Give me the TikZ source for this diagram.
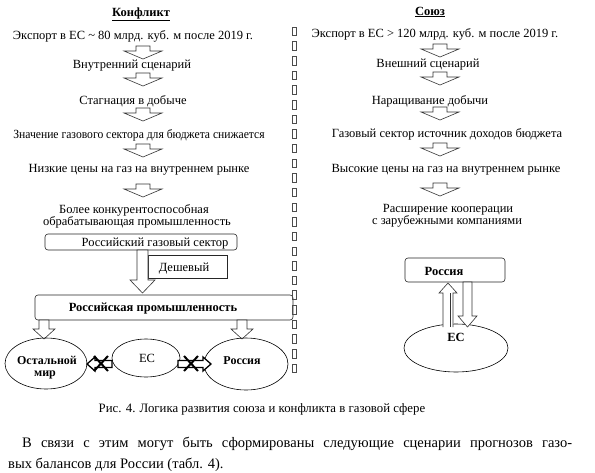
\documentclass[tikz,border=0pt]{standalone}
\usepackage{fontspec}
\setmainfont{Liberation Serif}
\usetikzlibrary{shapes.geometric}
\tikzset{
  txt/.style={anchor=base, inner sep=0pt, font=\fontsize{12.5}{14}\selectfont},
  btxt/.style={txt, font=\fontsize{12.5}{14}\selectfont\bfseries},
  etxt/.style={txt, font=\fontsize{12}{13}\selectfont\bfseries},
  blk/.style={draw=black!80, line width=0.6pt, fill=white},
  bold arrow/.style={draw=black, line width=1.3pt, fill=white},
  cross/.style={draw=black, line width=2pt},
  rbox/.style={draw=black!85, line width=0.6pt, rounded corners=3pt, inner sep=0pt},
  ell/.style={ellipse, draw=black, line width=0.6pt, inner sep=0pt},
  tofu/.style={draw=black!70, line width=0.5pt},
  pics/dnarr/.style={code={\draw[blk] (-7,0) -- (7,0) -- (7,5) -- (19,5) -- (0,13) -- (-19,5) -- (-7,5) -- cycle;}}
}
\begin{document}
\begin{tikzpicture}[x=1pt,y=-1pt]
\useasboundingbox (0,0) rectangle (595,472);
% left column
\node[btxt] (hk) at (141,16) {\underline{Конфликт}};
\node[txt] (l1) at (133,39) {Экспорт в ЕС \textasciitilde\ 80 млрд. куб. м после 2019 г.};
\pic at (143,46) {dnarr};
\node[txt] (l2) at (132,68) {Внутренний сценарий};
\pic at (143,73) {dnarr};
\node[txt] (l3) at (133,104) {Стагнация в добыче};
\pic at (143,108) {dnarr};
\node[txt] (l4) at (139,138) {\scalebox{0.93}[1]{Значение газового сектора для бюджета снижается}};
\pic at (143,144) {dnarr};
\node[txt] (l5) at (139,172) {Низкие цены на газ на внутреннем рынке};
\pic at (143,184) {dnarr};
\node[txt] (l6) at (134,213) {Более конкурентоспособная};
\node[txt] (l7) at (137,225) {обрабатывающая промышленность};
% gas sector
\node[rbox, minimum width=192pt, minimum height=16pt] (gs) at (141,242) {};
\node[txt] (gst) at (155,246.5) {Российский газовый сектор};
\node[draw=black!85, line width=0.6pt, inner sep=0pt, minimum width=79pt, minimum height=23pt] (cheap) at (187.5,266.5) {};
\node[txt] (cheapt) at (184,271) {Дешевый};
\draw[blk] (137,250) -- (148,250) -- (148,280) -- (155,280) -- (142.5,293) -- (130,280) -- (137,280) -- cycle;
\node[rbox, minimum width=258pt, minimum height=25pt] (ind) at (164,307.5) {};
\node[btxt] (indt) at (153,311.5) {Российская промышленность};
\draw[blk] (39,320) -- (49,320) -- (49,329) -- (55,329) -- (44,339) -- (33,329) -- (39,329) -- cycle;
\draw[blk] (237,320) -- (247,320) -- (247,329) -- (253,329) -- (242,339) -- (231,329) -- (237,329) -- cycle;
% ellipses
\node[ell, minimum width=82pt, minimum height=51pt] (rest) at (46,363.5) {};
\node[etxt] (restt1) at (47,364) {Остальной};
\node[etxt] (restt2) at (45,376) {мир};
\node[ell, minimum width=68pt, minimum height=38pt] (ec) at (146,358) {};
\node[txt] (ect) at (147,362.5) {ЕС};
\node[ell, minimum width=84pt, minimum height=52pt] (ru) at (246,364) {};
\node[etxt] (rut) at (242,364.5) {Россия};
% crossed arrows
\draw[bold arrow] (112,360.5) -- (95,360.5) -- (95,357) -- (87,364) -- (95,371) -- (95,367.5) -- (112,367.5) -- cycle;
\draw[cross] (94,356) -- (108,371) (94,371) -- (108,356);
\draw[bold arrow] (178,360.5) -- (203,360.5) -- (203,357) -- (211,364) -- (203,371) -- (203,367.5) -- (178,367.5) -- cycle;
\draw[cross] (184,356) -- (198,371) (184,371) -- (198,356);
% separator glyphs
\foreach \i in {0,...,23} \draw[tofu] (292,27+\i*14.65) rectangle +(4,8.5);
% right column
\node[btxt] (hs) at (430,15) {\underline{Союз}};
\node[txt] (r1) at (435,37) {Экспорт в ЕС > 120 млрд. куб. м после 2019 г.};
\pic at (440,44) {dnarr};
\node[txt] (r2) at (428,67) {Внешний сценарий};
\pic at (440,72) {dnarr};
\node[txt] (r3) at (430,104) {Наращивание добычи};
\pic at (440,107) {dnarr};
\node[txt] (r4) at (447,137) {Газовый сектор источник доходов бюджета};
\pic at (440,143) {dnarr};
\node[txt] (r5) at (446,172) {Высокие цены на газ на внутреннем рынке};
\pic at (440,183) {dnarr};
\node[txt] (r6) at (448,212) {Расширение кооперации};
\node[txt] (r7) at (447,224) {с зарубежными компаниями};
\node[rbox, minimum width=100pt, minimum height=24pt] (rr) at (455,270) {};
\node[btxt] (rrt) at (444,275.5) {Россия};
\node[ell, minimum width=104pt, minimum height=48pt] (rec) at (456,348) {};
\node[btxt] (rect) at (456,341.5) {ЕС};
\draw[blk] (443,327) -- (443,293) -- (439,293) -- (448,283) -- (457,293) -- (453,293) -- (453,327);
\draw[black!80, line width=0.6pt] (450,293) -- (450,327);
\draw[blk] (463,282) -- (472,282) -- (472,316) -- (477,316) -- (467.5,327) -- (458,316) -- (463,316) -- cycle;
% caption and body
\node[txt, font=\fontsize{12.8}{14}\selectfont] (cap) at (262,412.5) {Рис. 4. Логика развития союза и конфликта в газовой сфере};
\node[txt, anchor=base west, font=\fontsize{14.5}{17}\selectfont] (b1) at (22,447) {\makebox[550pt][s]{В связи с этим могут быть сформированы следующие сценарии прогнозов газо-}};
\node[txt, anchor=base west, font=\fontsize{14.5}{17}\selectfont] (b2) at (8,468) {вых балансов для России (табл. 4).};
\end{tikzpicture}
\end{document}
